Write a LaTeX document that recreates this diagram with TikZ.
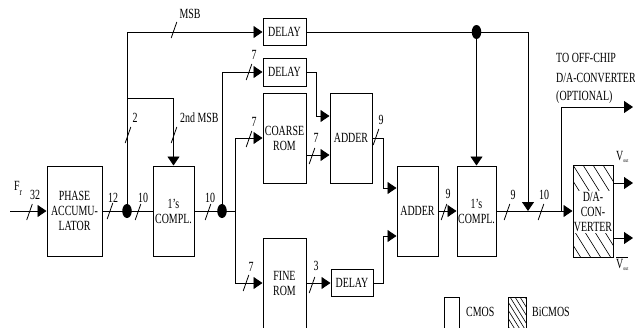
\documentclass[tikz,border=0pt]{standalone}
\usepackage{fontspec}
\setmainfont[FakeStretch=0.71]{Liberation Serif}
\usetikzlibrary{arrows.meta,shapes.geometric}
\newcommand\fsz{\fontsize{14}{15}\selectfont}
\newcommand\subsz{\fontsize{5.5}{5.5}\selectfont}
\begin{document}
\begin{tikzpicture}[x=1pt,y=-1pt,
  blk/.style={draw,line width=1pt,inner sep=0pt,align=center,font=\fsz},
  wire/.style={line width=0.9pt},
  arr/.style={wire,-{Triangle[length=9pt,width=12pt]}},
  jdot/.style={ellipse,fill,inner sep=0pt,minimum width=9.5pt,minimum height=14pt},
  lbl/.style={font=\fsz,inner sep=0pt},
  hatch/.style={line width=0.6pt},
  busmark/.pic={\draw[line width=0.8pt] (-2.8,8) -- (2.8,-8);}
]
\useasboundingbox (0,0) rectangle (635,327);
\clip (0,0) rectangle (635,327);

% blocks
\node[blk,minimum width=55pt,minimum height=90pt] (pa) at (74.5,211) {PHASE\\ACCUMU-\\LATOR};
\node[blk,minimum width=41pt,minimum height=90pt] (c1) at (173.5,211) {1's\\COMPL.};
\node[blk,minimum width=43pt,minimum height=27pt] (d1) at (284.5,32) {DELAY};
\node[blk,minimum width=43pt,minimum height=28pt] (d2) at (284.5,72) {DELAY};
\node[blk,minimum width=43pt,minimum height=90pt] (cr) at (284.5,138) {COARSE\\ROM};
\node[blk,minimum width=43pt,minimum height=90pt] (fr) at (284.5,283) {FINE\\ROM};
\node[blk,minimum width=42pt,minimum height=90pt] (a1) at (351,138) {ADDER};
\node[blk,minimum width=42pt,minimum height=27pt] (d3) at (352,283) {DELAY};
\node[blk,minimum width=41pt,minimum height=90pt] (a2) at (417.5,211) {ADDER};
\node[blk,minimum width=39pt,minimum height=90pt] (c2) at (476.5,211) {1's\\COMPL.};

% D/A converter (hatched)
\begin{scope}
  \clip (573,165) rectangle (613,257);
  \foreach \i in {0,...,9} \draw[hatch] (523+10*\i,165) -- ++(57.5,92);
\end{scope}
\node[lbl,fill=white,inner sep=0.8pt,align=center] (datext) at (593,212) {D/A-\\CON-\\VERTER};
\node[blk,minimum width=40pt,minimum height=92pt] (da) at (593,211) {};

% junction dots
\node[jdot] (j1) at (127,211) {};
\node[jdot] (j2) at (222,211) {};
\node[jdot] (j3) at (476.5,32) {};

% connectors
\coordinate (fin0) at (10,211);
\draw[arr] (fin0) -- (pa.west);
\draw[wire] (pa.east) -- (c1.west);
\coordinate (t1) at (127,32);
\draw[arr] (j1.center) -- (t1) -- (d1.west);
\coordinate (t2) at (127,98);
\draw[arr] (t2) -| (c1.north);
\coordinate (s1) at (235,211);
\draw[wire] (c1.east) -- (s1);
\draw[arr] (j2.center) |- (d2.west);
\draw[arr] (s1) |- (cr.west);
\draw[arr] (s1) |- (fr.west);
\coordinate (k1) at (316,116);
\draw[arr] (d2.east) -| (k1) -- (k1 -| a1.west);
\coordinate (k2) at (306,155);
\draw[arr] (cr.east |- k2) -- (k2 -| a1.west);
\coordinate (k3) at (383,188);
\draw[arr] (a1.east) -| (k3) -- (k3 -| a2.west);
\draw[arr] (fr.east) -- (d3.west);
\coordinate (k4) at (383,236);
\draw[arr] (d3.east) -| (k4) -- (k4 -| a2.west);
\draw[arr] (a2.east) -- (c2.west);
\coordinate (t3) at (528,32);
\coordinate (m1) at (528,211);
\draw[wire] (d1.east) -- (t3);
\draw[arr] (t3) -- (m1);
\draw[arr] (j3.center) -- (c2.north);
\draw[arr] (c2.east) -- (da.west);
\coordinate (k5) at (561,211);
\coordinate (off) at (633,107);
\draw[arr] (k5) |- (off);
\coordinate (o1) at (633,183);
\coordinate (o2) at (633,238);
\draw[arr] (o1 -| da.east) -- (o1);
\draw[arr] (o2 -| da.east) -- (o2);

% bus width marks and labels
\pic at (29.5,212) {busmark};  \node[lbl] (l32) at (35,195) {32};
\pic at (110,211) {busmark};   \node[lbl] (l12) at (113,198) {12};
\pic at (138,212) {busmark};   \node[lbl] (l10a) at (143,198) {10};
\pic at (208,212) {busmark};   \node[lbl] (l10b) at (210,198) {10};
\pic at (128,135) {busmark};   \node[lbl] (l2) at (135,118) {2};
\pic at (174,135) {busmark};   \node[lbl,anchor=west] (l2nd) at (180,118) {2nd MSB};
\pic at (174,30) {busmark};    \node[lbl] (lmsb) at (190,14) {MSB};
\pic at (249,72) {busmark};    \node[lbl] (l7a) at (254,55) {7};
\pic at (249,139) {busmark};   \node[lbl] (l7b) at (254,122) {7};
\pic at (246,283) {busmark};   \node[lbl] (l7c) at (251,267) {7};
\pic at (312,156) {busmark};   \node[lbl] (l7d) at (316,138) {7};
\pic at (376,137) {busmark};   \node[lbl] (l9a) at (381,120) {9};
\pic at (312,285) {busmark};   \node[lbl] (l3) at (316,266) {3};
\pic at (444,212) {busmark};   \node[lbl] (l9b) at (448,194) {9};
\pic at (507,212) {busmark};   \node[lbl] (l9c) at (513,195) {9};
\pic at (541,212) {busmark};   \node[lbl] (l10c) at (544,195) {10};

% other texts
\node[lbl,anchor=base west] (fr0) at (14,190) {F\raisebox{-5pt}{\fontsize{10}{10}\selectfont r}};
\node[lbl,anchor=base west] (vo1) at (616,160) {V\raisebox{-2pt}{\subsz out}};
\node[lbl,anchor=base west] (vo2) at (616,268) {$\overline{\mbox{V\raisebox{-2pt}{\subsz out}}}$};
\node[lbl,anchor=base west] (of1) at (556,62) {TO OFF-CHIP};
\node[lbl,anchor=base west] (of2) at (556,82) {D/A-CONVERTER};
\node[lbl,anchor=base west] (of3) at (556,100) {(OPTIONAL)};

% legend
\node[draw,line width=0.9pt,inner sep=0pt,minimum width=15pt,minimum height=43pt] (cm) at (451.5,318.5) {};
\node[lbl,anchor=west] (cmt) at (466,312) {CMOS};
\begin{scope}
  \clip (508,297) rectangle (526,340);
  \foreach \i in {0,...,14} \draw[hatch] (470+5*\i,297) -- ++(31,50);
\end{scope}
\node[draw,line width=0.9pt,inner sep=0pt,minimum width=18pt,minimum height=43pt] (bm) at (517,318.5) {};
\node[lbl,anchor=west] (bmt) at (532,312) {BiCMOS};
\end{tikzpicture}
\end{document}
